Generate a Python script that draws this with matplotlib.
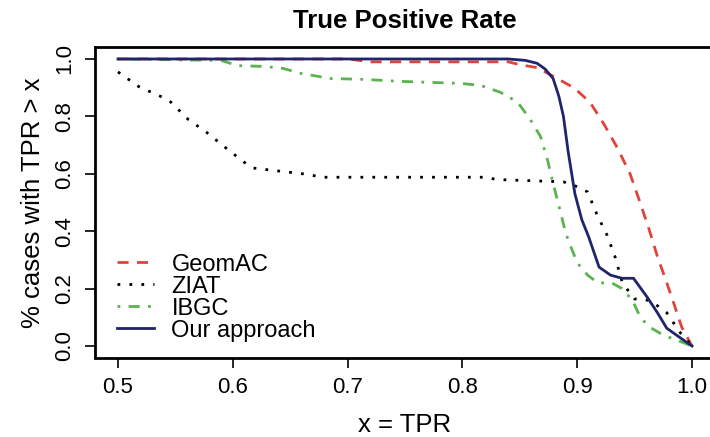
""" Survival-style curves of TPR for the compared methods
"""
import numpy as np
import matplotlib
matplotlib.use('Agg')
from matplotlib import pyplot as plt

plt.rcParams['font.family'] = ['Liberation Sans', 'DejaVu Sans']

# Data
geom_x = [0.5, 0.70, 0.72, 0.84, 0.85, 0.865, 0.879, 0.897, 0.911, 0.923, 0.935,
          0.946, 0.953, 0.962, 0.970, 0.978, 0.984, 0.991, 1.0]
geom_y = [1.0, 1.0, 0.99, 0.99, 0.98, 0.97, 0.94, 0.90, 0.85, 0.775, 0.69,
          0.60, 0.52, 0.414, 0.31, 0.22, 0.15, 0.066, 0.0]

ziat_x = [0.5, 0.518, 0.537, 0.546, 0.561, 0.577, 0.594, 0.610, 0.618, 0.639, 0.661,
          0.679, 0.82, 0.83, 0.888, 0.900, 0.909, 0.917, 0.926, 0.933, 0.939, 0.944,
          0.950, 0.961, 0.970, 0.978, 0.984, 0.990, 1.0]
ziat_y = [0.955, 0.904, 0.87, 0.85, 0.79, 0.745, 0.69, 0.64, 0.62, 0.61, 0.60,
          0.588, 0.588, 0.58, 0.572, 0.555, 0.537, 0.46, 0.386, 0.31, 0.225, 0.195,
          0.164, 0.16, 0.14, 0.116, 0.08, 0.045, 0.0]

ibgc_x = [0.5, 0.59, 0.604, 0.627, 0.644, 0.659, 0.685, 0.714, 0.746, 0.798, 0.816,
          0.833, 0.848, 0.859, 0.868, 0.874, 0.879, 0.885, 0.890, 0.894, 0.900, 0.909,
          0.918, 0.930, 0.939, 0.948, 0.955, 0.963, 0.975, 0.987, 1.0]
ibgc_y = [1.0, 0.995, 0.977, 0.974, 0.967, 0.95, 0.932, 0.929, 0.922, 0.915, 0.908,
          0.884, 0.85, 0.79, 0.73, 0.65, 0.567, 0.473, 0.393, 0.35, 0.29, 0.247,
          0.22, 0.22, 0.20, 0.16, 0.10, 0.066, 0.038, 0.02, 0.0]

ours_x = [0.5, 0.84, 0.855, 0.865, 0.872, 0.879, 0.884, 0.888, 0.892, 0.898, 0.904,
          0.910, 0.913, 0.919, 0.929, 0.939, 0.949, 0.961, 0.970, 0.978, 0.990, 1.0]
ours_y = [1.0, 1.0, 0.995, 0.985, 0.965, 0.932, 0.87, 0.80, 0.68, 0.53, 0.44,
          0.38, 0.345, 0.275, 0.247, 0.236, 0.236, 0.17, 0.115, 0.062, 0.028, 0.0]

labels = ['GeomAC', 'ZIAT', 'IBGC', 'Our approach']
xticks = [0.5, 0.6, 0.7, 0.8, 0.9, 1.0]
yticks = [0.0, 0.2, 0.4, 0.6, 0.8, 1.0]

fig = plt.figure(figsize=(7.1, 4.37), dpi=100)
ax = fig.add_axes([95/710., 1-357.5/437., 620/710., 310/437.])

lw = 2.0
ax.plot(geom_x, geom_y, color='#e0433a', lw=lw, linestyle=(0, (4, 3)), label=labels[0])
ax.plot(ziat_x, ziat_y, color='black', lw=lw, linestyle=(0, (1, 3.3)), label=labels[1])
ax.plot(ibgc_x, ibgc_y, color='#5ab34f', lw=lw, linestyle=(0, (1, 3, 4, 3)), label=labels[2])
ax.plot(ours_x, ours_y, color='#1f246c', lw=lw, linestyle='-', label=labels[3])

# Axes, R style
ax.set_xlim(0.48, 1.02)
ax.set_ylim(-0.04, 1.04)
ax.set_xticks(xticks)
ax.set_xticklabels(['{:.1f}'.format(v) for v in xticks])
ax.set_yticks(yticks)
ax.set_yticklabels(['{:.1f}'.format(v) for v in yticks], rotation=90, va='center')
ax.tick_params(direction='out', length=7.2, width=1.2, labelsize=16, pad=7)
for sp in ax.spines.values():
    sp.set_linewidth(2.0)

ax.set_xlabel('x = TPR', fontsize=18.5, labelpad=11)
ax.set_ylabel('% cases with TPR > x', fontsize=18.5, labelpad=7)
ax.set_title('True Positive Rate', fontsize=18.5, fontweight='bold', pad=14)

ax.legend(loc='upper left', bbox_to_anchor=(0.035, 0.335), frameon=False,
          fontsize=17, handlelength=1.6, handletextpad=0.72, labelspacing=0.0,
          borderaxespad=0., borderpad=0.)

fig.savefig('out.png', dpi=100)
plt.close()
